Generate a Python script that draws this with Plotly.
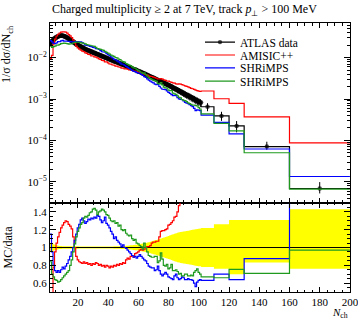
import plotly.graph_objects as go

# ---------------- data ----------------
# bin edges: unit bins centred on N_ch = 2..101, then wide bins
single_bin_centres = list(range(2, 102))
wide_bin_edges = [101.5, 110, 120, 130, 160, 200]

data_vals = [
    0.0224, 0.0251, 0.0275, 0.0295, 0.0316, 0.0327, 0.0335, 0.0339, 0.0335, 0.0327,
    0.0316, 0.0302, 0.0285, 0.0269, 0.0251, 0.0237, 0.0224, 0.0211, 0.0200, 0.0191,
    0.0182, 0.0174, 0.0166, 0.0158, 0.0153, 0.0148, 0.0143, 0.0138, 0.0133, 0.0129,
    0.0124, 0.0120, 0.0116, 0.0112, 0.0108, 0.0105, 0.0101, 0.0098, 0.0094, 0.0091,
    0.0088, 0.0085, 0.0082, 0.0079, 0.0077, 0.0074, 0.0072, 0.0069, 0.0067, 0.0065,
    0.0062, 0.0060, 0.0058, 0.0056, 0.0054, 0.0052, 0.0051, 0.0049, 0.0047, 0.00455,
    0.00438, 0.00421, 0.00405, 0.00389, 0.00374, 0.00360, 0.00346, 0.00333, 0.00320, 0.00308,
    0.00296, 0.00284, 0.00274, 0.00263, 0.00253, 0.00243, 0.00234, 0.00225, 0.00216, 0.00207,
    0.00197, 0.00188, 0.00180, 0.00172, 0.00164, 0.00157, 0.00150, 0.00143, 0.00136, 0.00130,
    0.00124, 0.00119, 0.00114, 0.00108, 0.00104, 0.00099, 0.00094, 0.00090, 0.00086, 0.00082,
    0.00065, 0.00039, 0.000224, 0.000071, 0.0000069,
]

err_up = [
    0.045, 0.04, 0.035, 0.03, 0.025, 0.02, 0.018, 0.016, 0.015, 0.013,
    0.013, 0.013, 0.013, 0.013, 0.013, 0.013, 0.013, 0.013, 0.013, 0.012,
    0.012, 0.012, 0.012, 0.012, 0.012, 0.012, 0.012, 0.012, 0.012, 0.012,
    0.012, 0.012, 0.012, 0.012, 0.012, 0.012, 0.012, 0.012, 0.012, 0.012,
    0.012, 0.012, 0.013, 0.013, 0.013, 0.014, 0.015, 0.016, 0.017, 0.018,
    0.019, 0.020, 0.022, 0.024, 0.026, 0.028, 0.030, 0.032, 0.035, 0.038,
    0.041, 0.044, 0.047, 0.050, 0.055, 0.060, 0.065, 0.070, 0.075, 0.080,
    0.085, 0.090, 0.095, 0.100, 0.106, 0.112, 0.118, 0.124, 0.130, 0.136,
    0.142, 0.148, 0.154, 0.160, 0.165, 0.170, 0.174, 0.178, 0.180, 0.183,
    0.186, 0.189, 0.192, 0.195, 0.198, 0.201, 0.204, 0.207, 0.210, 0.212,
    0.22, 0.26, 0.31, 0.31, 0.43,
]
err_dn = err_up[:100] + [0.22, 0.24, 0.30, 0.17, 0.24]

ratio_amisic = [
    0.42, 0.45, 0.78, 0.95, 1.05, 1.12, 1.17, 1.22, 1.25, 1.28,
    1.30, 1.29, 1.26, 1.24, 1.21, 1.12, 1.00, 0.90, 0.86, 0.84,
    0.83, 0.82, 0.84, 0.82, 0.83, 0.81, 0.82, 0.80, 0.82, 0.81,
    0.83, 0.82, 0.80, 0.81, 0.79, 0.80, 0.78, 0.80, 0.79, 0.77,
    0.79, 0.78, 0.80, 0.79, 0.81, 0.80, 0.82, 0.81, 0.83, 0.82,
    0.86, 0.88, 0.87, 0.90, 0.91, 0.89, 0.93, 0.94, 0.95, 0.97,
    0.98, 0.97, 0.98, 1.00, 1.01, 1.01, 1.02, 1.05, 1.06, 1.06,
    1.07, 1.07, 1.12, 1.18, 1.19, 1.19, 1.20, 1.21, 1.25, 1.26,
    1.28, 1.30, 1.34, 1.35, 1.40, 1.47, 1.52, 1.55, 1.58, 1.60,
    1.62, 1.64, 1.66, 1.68, 1.70, 1.72, 1.75, 1.78, 1.80, 1.85,
    2.4, 2.6, 3.5, 5.2, 12.6,
]

ratio_shrimps_blue = [
    1.15, 0.95, 0.80, 0.74, 0.72, 0.74, 0.72, 0.75, 0.78, 0.76,
    0.79, 0.82, 0.86, 0.90, 0.95, 1.00, 1.08, 1.15, 1.22, 1.26,
    1.31, 1.33, 1.30, 1.27, 1.29, 1.32, 1.31, 1.33, 1.32, 1.34,
    1.33, 1.36, 1.35, 1.31, 1.28, 1.30, 1.34, 1.27, 1.25, 1.22,
    1.18, 1.15, 1.10, 1.12, 1.08, 1.06, 1.04, 1.01, 1.03, 1.00,
    0.99, 0.97, 0.95, 0.93, 0.91, 0.89, 0.90, 0.88, 0.90, 0.92,
    0.90, 0.88, 0.86, 0.85, 0.82, 0.79, 0.78, 0.77, 0.77, 0.74,
    0.75, 0.79, 0.74, 0.70, 0.68, 0.70, 0.72, 0.70, 0.67, 0.66,
    0.65, 0.64, 0.68, 0.70, 0.66, 0.64, 0.65, 0.67, 0.66, 0.64,
    0.64, 0.65, 0.64, 0.64, 0.63, 0.60, 0.56, 0.61, 0.63, 0.64,
    0.63, 0.70, 0.64, 0.875, 1.95,
]

ratio_shrimps_green = [
    0.84, 0.70, 0.67, 0.64, 0.63, 0.61, 0.62, 0.64, 0.66, 0.68,
    0.70, 0.72, 0.74, 0.80, 0.86, 0.95, 1.04, 1.12, 1.18, 1.22,
    1.26, 1.28, 1.33, 1.35, 1.34, 1.36, 1.39, 1.40, 1.43, 1.44,
    1.42, 1.37, 1.40, 1.41, 1.43, 1.42, 1.40, 1.37, 1.36, 1.33,
    1.30, 1.29, 1.30, 1.27, 1.28, 1.24, 1.25, 1.20, 1.19, 1.20,
    1.16, 1.14, 1.13, 1.14, 1.10, 1.08, 1.09, 1.05, 1.04, 1.02,
    1.01, 0.98, 1.05, 1.00, 0.95, 0.91, 0.90, 0.89, 0.89, 0.90,
    0.90, 0.83, 0.85, 0.94, 0.87, 0.80, 0.79, 0.81, 0.76, 0.77,
    0.81, 0.74, 0.74, 0.75, 0.73, 0.70, 0.71, 0.68, 0.68, 0.70,
    0.70, 0.68, 0.68, 0.69, 0.68, 0.72, 0.74, 0.76, 0.72, 0.70,
    0.67, 0.66, 0.755, 0.71, 0.97,
]

series_names = ["AMISIC++", "SHRiMPS", "SHRiMPS"]
series_colors = ["#ff0000", "#0000ff", "#1f9a1f"]

y_tick_vals = [1e-5, 1e-4, 1e-3, 1e-2]
y_tick_text = ["10<sup>\u22125</sup>", "10<sup>\u22124</sup>", "10<sup>\u22123</sup>", "10<sup>\u22122</sup>"]
ratio_tick_vals = [0.6, 0.8, 1.0, 1.2, 1.4]
ratio_tick_text = ["0.6", "0.8", "1", "1.2", "1.4"]
x_tick_vals = [20, 40, 60, 80, 100, 120, 140, 160, 180, 200]

# ---------------- derived bin geometry ----------------
lo_edges = [c - 0.5 for c in single_bin_centres] + wide_bin_edges[:-1]
hi_edges = [c + 0.5 for c in single_bin_centres] + wide_bin_edges[1:]
centres = [(a + b) / 2 for a, b in zip(lo_edges, hi_edges)]
edges = lo_edges + [hi_edges[-1]]
n_single = len(single_bin_centres)


def step_y(vals):
    return list(vals) + [vals[-1]]


FONT = "Liberation Serif"
fig = go.Figure()

# legend placement (one small legend per entry, stacked tightly)
legend_rows = [0.929, 0.881, 0.833, 0.784]
legend_ids = ["legend", "legend2", "legend3", "legend4"]

# ---- upper panel: data (steps + points + error bars) ----
dx, dy, ms, eu, ed = [], [], [], [], []
for i, (lo, c, hi, v, u, d) in enumerate(zip(lo_edges, centres, hi_edges, data_vals, err_up, err_dn)):
    dx += [lo, c, hi]
    dy += [v, v, v]
    s_edge = 4.5 if i < n_single else 0
    ms += [s_edge, 4.5, s_edge]
    eu += [0, v * u, 0]
    ed += [0, v * d, 0]
fig.add_trace(go.Scatter(x=dx, y=dy, mode="lines+markers",
                         line=dict(color="black", width=1.2),
                         marker=dict(color="black", size=ms, line=dict(width=0)),
                         error_y=dict(type="data", array=eu, arrayminus=ed, color="black",
                                      thickness=1, width=0),
                         name="ATLAS data", xaxis="x", yaxis="y", legend=legend_ids[0]))

# ---- upper panel: MC ----
mc_sets = [ratio_amisic, ratio_shrimps_blue, ratio_shrimps_green]
for k, (name, col, rat) in enumerate(zip(series_names, series_colors, mc_sets)):
    mc = [d * r for d, r in zip(data_vals, rat)]
    fig.add_trace(go.Scatter(x=edges, y=step_y(mc), mode="lines", line_shape="hv",
                             line=dict(color=col, width=1.2), name=name,
                             xaxis="x", yaxis="y", legend=legend_ids[k + 1]))

# ---- ratio panel ----
band_lo = [1 - e for e in err_dn]
band_hi = [1 + e for e in err_up]
fig.add_trace(go.Scatter(x=edges, y=step_y(band_lo), mode="lines", line_shape="hv",
                         line=dict(width=0, color="#ffff00"), showlegend=False,
                         xaxis="x2", yaxis="y2"))
fig.add_trace(go.Scatter(x=edges, y=step_y(band_hi), mode="lines", line_shape="hv",
                         line=dict(width=0, color="#ffff00"), fill="tonexty",
                         fillcolor="#ffff00", showlegend=False, xaxis="x2", yaxis="y2"))
fig.add_trace(go.Scatter(x=[edges[0], edges[-1]], y=[1, 1], mode="lines",
                         line=dict(color="black", width=1.2), showlegend=False,
                         xaxis="x2", yaxis="y2"))
for col, rat in zip(series_colors, mc_sets):
    fig.add_trace(go.Scatter(x=edges, y=step_y(rat), mode="lines", line_shape="hv",
                             line=dict(color=col, width=1.2), showlegend=False,
                             xaxis="x2", yaxis="y2"))

axis_common = dict(showline=True, linecolor="black", linewidth=1, mirror="ticks",
                   ticks="inside", tickcolor="black", showgrid=False, zeroline=False,
                   automargin=False,
                   tickfont=dict(family=FONT, size=11, color="black"))

split = 0.331
legend_common = dict(x=0.5, xanchor="left", yanchor="middle", bgcolor="rgba(0,0,0,0)",
                     font=dict(family=FONT, size=11.5, color="black"), itemwidth=30,
                     traceorder="normal", borderwidth=0)
layout_legends = {lid: dict(legend_common, y=yy) for lid, yy in zip(legend_ids, legend_rows)}

fig.update_layout(
    width=358, height=320,
    margin=dict(l=50, r=8, t=23, b=28, autoexpand=False),
    paper_bgcolor="white", plot_bgcolor="white",
    font=dict(family=FONT, size=11, color="black"),
    showlegend=True,
    xaxis=dict(axis_common, domain=[0, 1], range=[1.5, 200.05], anchor="y",
               showticklabels=False, ticklen=5, tickvals=x_tick_vals,
               minor=dict(dtick=5, tick0=0, ticklen=2.5, ticks="inside", tickcolor="black")),
    yaxis=dict(axis_common, domain=[split, 1], type="log", range=[-5.51, -1.165], anchor="x",
               tickvals=y_tick_vals, ticktext=y_tick_text, ticklen=6,
               minor=dict(tickmode="array",
                          tickvals=[m * 10 ** e for e in range(-6, -1) for m in range(2, 10)],
                          ticklen=3, ticks="inside", tickcolor="black")),
    xaxis2=dict(axis_common, domain=[0, 1], range=[1.5, 200.05], anchor="y2", matches="x",
                tickvals=x_tick_vals, ticklen=5, ticklabeloverflow="allow",
                minor=dict(dtick=5, tick0=0, ticklen=2.5, ticks="inside", tickcolor="black")),
    yaxis2=dict(axis_common, domain=[0, split], range=[0.5, 1.5], anchor="x2",
                tickvals=ratio_tick_vals, ticktext=ratio_tick_text, ticklen=6,
                minor=dict(dtick=0.05, tick0=0, ticklen=3, ticks="inside", tickcolor="black")),
    **layout_legends,
)

fig.add_annotation(text="Charged multiplicity \u2265 2 at 7 TeV, track <i>p</i><sub>\u22a5</sub> > 100 MeV",
                   xref="paper", yref="paper", x=0, y=1, xanchor="left", yanchor="bottom",
                   yshift=3, showarrow=False, font=dict(family=FONT, size=12))
fig.add_annotation(text="1/\u03c3 d\u03c3/dN<sub>ch</sub>", xref="paper", yref="paper",
                   x=0, y=1, xanchor="right", yanchor="top", xshift=-33, textangle=-90,
                   showarrow=False, font=dict(family=FONT, size=12))
fig.add_annotation(text="MC/data", xref="paper", yref="paper", x=0, y=split / 2,
                   xanchor="right", yanchor="middle", xshift=-33, textangle=-90,
                   showarrow=False, font=dict(family=FONT, size=12))
fig.add_annotation(text="<i>N</i><sub>ch</sub>", xref="paper", yref="paper", x=1, y=0,
                   xanchor="right", yanchor="top", yshift=-12, showarrow=False,
                   font=dict(family=FONT, size=11))

fig.write_html("out.html")
